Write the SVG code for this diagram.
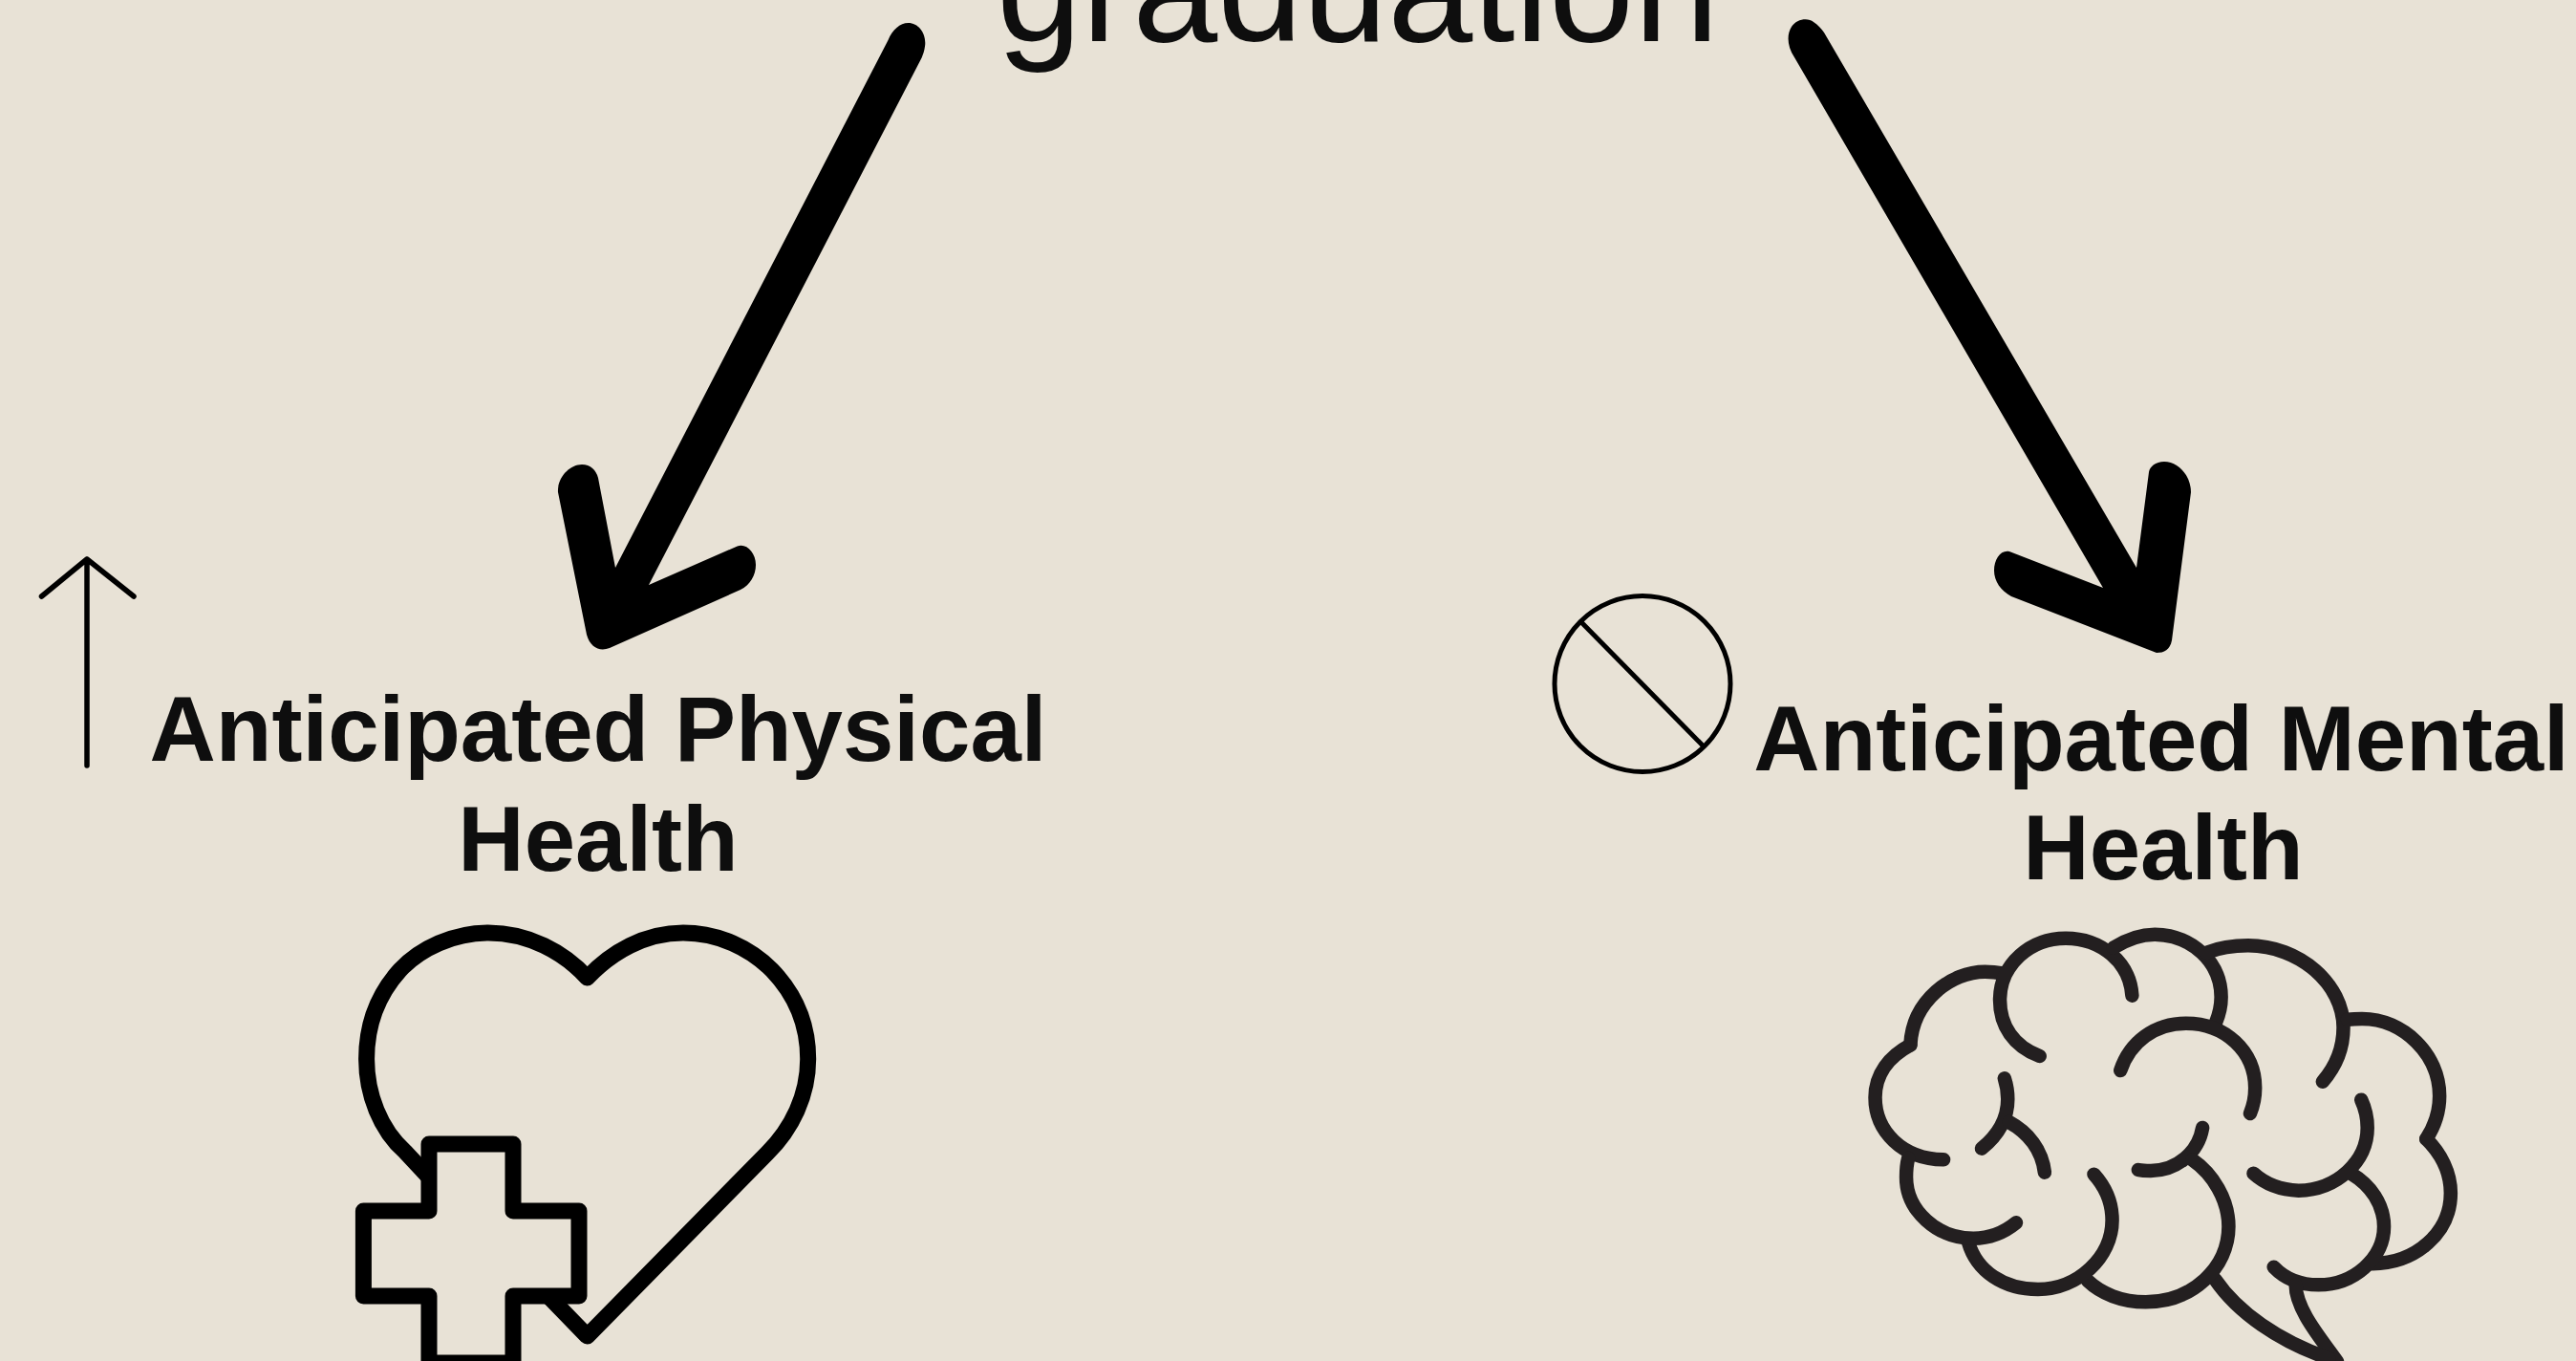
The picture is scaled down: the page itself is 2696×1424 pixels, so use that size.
<svg xmlns="http://www.w3.org/2000/svg" width="2696" height="1424" viewBox="0 0 2696 1424">
<style>
text{font-family:"Liberation Sans",Arial,sans-serif;fill:#0e0e0e;text-anchor:middle}
.b{font-weight:700;font-size:96px}
.s{fill:none;stroke-linecap:round;stroke-linejoin:round}
.br path{fill:none;stroke:#231f20;stroke-width:14.500;stroke-linecap:round;stroke-linejoin:round;vector-effect:non-scaling-stroke}
</style>
<rect width="2696" height="1424" fill="#e8e2d6"/>
<g id="node-graduation"><text x="1421" y="43" font-size="160">graduation</text></g>
<g id="connectors">
<path id="arrow-left" fill="#000" d="M929.500 42C934 31 942 24 950.500 24C962 24 970 36 968 48.500C967.500 53 966 57 964.600 60.600L679 612L771.700 571.500C781 568 791 578 791 591C791 602 785 612 775 617L638 678C628 682 618 678 614 664L584 515C583 500 596 486 609 486C618 486 624 492 626 500L644 594Z"/>
<path id="arrow-right" fill="#000" d="M1878 60C1870 48 1870 36 1875 28C1880 20 1892 18 1898 23C1903 26 1906 30 1909 34L2236 594L2249 494C2250 488 2256 483 2265 483C2280 483 2293 498 2293 515L2273 670C2271 680 2265 683 2257 683L2105 624C2094 618 2087 608 2087 597C2087 585 2094 575 2103 577L2201 615Z"/>
</g>
<g id="node-physical">
<text class="b" x="626" y="796">Anticipated Physical</text>
<text class="b" x="626" y="911">Health</text>
<path class="s" stroke="#000" stroke-width="5.500" d="M91 801V585M43.500 624L91 585L140 624"/>
<path class="s" stroke="#000" stroke-width="17" d="M452 1235L424 1205C398 1182 383.600 1145 383.600 1108C383.600 1070 396 1040 418.600 1015C440 992 475 976 511 976C553 976 590 996 614.600 1023C640 996 675 976 715 976C752 976 785 992 807.900 1015C832 1040 845.700 1070 845.700 1108C845.700 1146 829 1181 802.500 1207L614.600 1398L570 1352"/>
<path fill="#e8e2d6" stroke="#000" stroke-width="17" stroke-linejoin="round" d="M449 1197H537V1267H606V1356H537V1426H449V1356H380.400V1267H449Z"/>
</g>
<g id="node-mental">
<text class="b" x="2262" y="806">Anticipated Mental</text>
<text class="b" x="2264" y="920">Health</text>
<g fill="none" stroke="#000" stroke-width="5">
<circle cx="1719" cy="715.500" r="92"/>
<path d="M1654 650L1782 780"/>
</g>
<g class="br" transform="translate(1930 950) scale(.43365 .33333)">
<path d="M160 430C165 290 260 200 340 200C355 200 370 202 382 205"/>
<path d="M472 465C410 435 375 370 376 285C378 175 450 95 535 95C620 95 690 170 695 275"/>
<path d="M650 125C680 100 715 83 750 83C840 85 910 170 910 280C910 310 905 335 897 360"/>
<path d="M875 140C905 125 940 118 975 118C1100 118 1205 240 1205 375C1205 445 1185 500 1155 545"/>
<path d="M1215 350C1230 348 1240 348 1250 348C1350 348 1437 460 1437 590C1437 640 1425 685 1405 725"/>
<path d="M1405 725C1440 770 1464 830 1464 895C1464 1020 1380 1115 1275 1117"/>
<path d="M1225 835C1270 870 1303 930 1303 1000C1303 1100 1230 1183 1145 1183C1105 1183 1065 1165 1037 1127"/>
<path d="M1090 1183C1090 1260 1150 1350 1190 1424"/>
<path d="M895 1165C950 1270 1050 1360 1170 1414"/>
<path d="M667 510C690 420 750 362 825 362C920 362 992 450 992 565C992 595 988 620 980 645"/>
<path d="M1248 602C1258 630 1263 660 1263 690C1263 795 1190 885 1097 887C1050 885 1015 865 988 833"/>
<path d="M865 690C855 765 805 825 740 825C730 825 720 825 710 822"/>
<path d="M840 790C890 835 928 915 928 1000C928 1130 840 1237 728 1237C670 1237 620 1210 588 1170"/>
<path d="M603 836C630 875 647 925 647 980C647 1095 565 1197 468 1197C385 1197 320 1140 300 1050"/>
<path d="M160 430C110 465 75 520 75 595C75 700 140 788 240 790"/>
<path d="M155 785C152 800 150 825 150 845C150 950 225 1037 312 1037C350 1037 385 1020 415 988"/>
<path d="M387 535C392 555 395 575 395 600C395 665 370 715 332 755"/>
<path d="M398 672C445 705 478 760 484 830"/>
</g>
</g>
</svg>
